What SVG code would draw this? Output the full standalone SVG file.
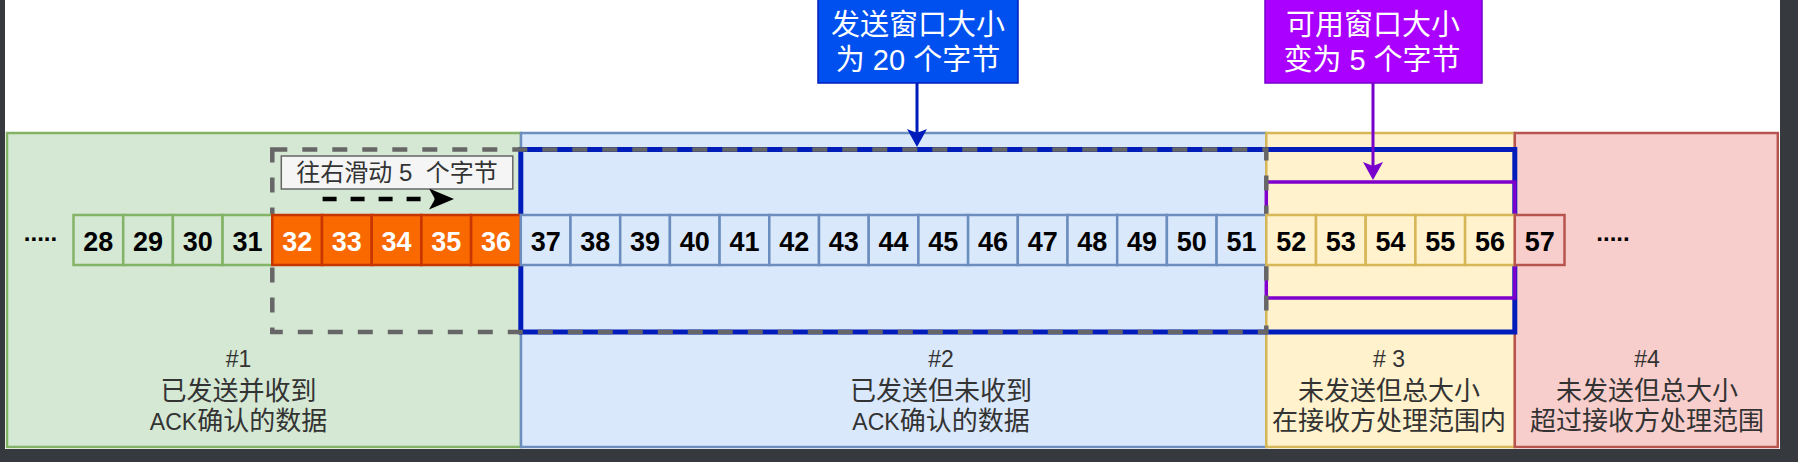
<svg xmlns="http://www.w3.org/2000/svg" width="1798" height="462" viewBox="0 0 1798 462">
<defs>
<style>
text{font-family:"Liberation Sans","Noto Sans CJK SC",sans-serif;}
.lbl{font-size:26px;fill:#333;text-anchor:middle;}
.lat{font-size:23px;}
.num{font-size:27px;font-weight:bold;text-anchor:middle;fill:#000;}
.wnum{fill:#fff;}
.dots{font-size:24px;font-weight:bold;text-anchor:middle;fill:#000;}
.co{font-size:29px;fill:#fff;text-anchor:middle;}
.reg{stroke-width:2.5;}
.cell{stroke-width:2.5;}
.g{fill:#d5e8d4;stroke:#82b366;}
.o{fill:#fa6800;stroke:#c73500;}
.b{fill:#dae8fc;stroke:#6c8ebf;}
.y{fill:#fff2cc;stroke:#d6b656;}
.r{fill:#f8cecc;stroke:#b85450;}
</style>
<marker id="mBlue" viewBox="0 0 18 20" refX="4" refY="10" markerWidth="18" markerHeight="20" markerUnits="userSpaceOnUse" orient="auto"><path d="M0,0 L18,10 L0,20 L4,10 Z" fill="#001dbc"/></marker>
<marker id="mPurple" viewBox="0 0 18 20" refX="4" refY="10" markerWidth="18" markerHeight="20" markerUnits="userSpaceOnUse" orient="auto"><path d="M0,0 L18,10 L0,20 L4,10 Z" fill="#7700cc"/></marker>
<marker id="mBlack" viewBox="0 0 25 21" refX="6" refY="10.5" markerWidth="25" markerHeight="21" markerUnits="userSpaceOnUse" orient="auto"><path d="M0,0 L25,10.5 L0,21 L6,10.5 Z" fill="#000"/></marker>
</defs>

<rect x="0" y="0" width="1798" height="462" fill="#36393d"/>
<rect x="5" y="0" width="1775" height="449" fill="#ffffff"/>

<g id="region1"><rect class="reg g" x="7" y="133" width="514" height="314"/>
<text class="lbl"><tspan class="lat" x="238.5" y="366.5">#1</tspan><tspan x="238.5" y="400">已发送并收到</tspan><tspan x="238.5" y="430"><tspan class="lat">ACK</tspan>确认的数据</tspan></text></g>
<g id="region2"><rect class="reg b" x="521" y="133" width="745.3" height="314"/>
<text class="lbl"><tspan class="lat" x="941" y="366.5">#2</tspan><tspan x="941" y="400">已发送但未收到</tspan><tspan x="941" y="430"><tspan class="lat">ACK</tspan>确认的数据</tspan></text></g>
<g id="region3"><rect class="reg y" x="1266.3" y="133" width="248.5" height="314"/>
<text class="lbl"><tspan class="lat" x="1389" y="366.5"># 3</tspan><tspan x="1389" y="400">未发送但总大小</tspan><tspan x="1389" y="430">在接收方处理范围内</tspan></text></g>
<g id="region4"><rect class="reg r" x="1514.8" y="133" width="263" height="314"/>
<text class="lbl"><tspan class="lat" x="1647" y="366.5">#4</tspan><tspan x="1647" y="400">未发送但总大小</tspan><tspan x="1647" y="430">超过接收方处理范围</tspan></text></g>

<g id="windows">
<rect id="send-window" x="520.8" y="149.5" width="994" height="182.5" fill="none" stroke="#001dbc" stroke-width="5"/>
<rect id="usable-window" x="1266.3" y="182" width="248.5" height="116" fill="none" stroke="#7f00cc" stroke-width="3.5"/>
<rect id="old-window" x="272.3" y="149.5" width="994" height="182.5" fill="none" stroke="#666666" stroke-width="4.5" stroke-dasharray="15 15"/>
</g>

<g id="cells">
<g id="c28"><rect class="cell g" x="73.5" y="215" width="49.7" height="50"/><text class="num" x="98.35" y="251">28</text></g>
<g id="c29"><rect class="cell g" x="123.2" y="215" width="49.7" height="50"/><text class="num" x="148.05" y="251">29</text></g>
<g id="c30"><rect class="cell g" x="172.9" y="215" width="49.7" height="50"/><text class="num" x="197.75" y="251">30</text></g>
<g id="c31"><rect class="cell g" x="222.6" y="215" width="49.7" height="50"/><text class="num" x="247.45" y="251">31</text></g>
<g id="c32"><rect class="cell o" x="272.3" y="215" width="49.7" height="50"/><text class="num wnum" x="297.15" y="251">32</text></g>
<g id="c33"><rect class="cell o" x="322.0" y="215" width="49.7" height="50"/><text class="num wnum" x="346.85" y="251">33</text></g>
<g id="c34"><rect class="cell o" x="371.7" y="215" width="49.7" height="50"/><text class="num wnum" x="396.55" y="251">34</text></g>
<g id="c35"><rect class="cell o" x="421.4" y="215" width="49.7" height="50"/><text class="num wnum" x="446.25" y="251">35</text></g>
<g id="c36"><rect class="cell o" x="471.1" y="215" width="49.7" height="50"/><text class="num wnum" x="495.95" y="251">36</text></g>
<g id="c37"><rect class="cell b" x="520.8" y="215" width="49.7" height="50"/><text class="num" x="545.65" y="251">37</text></g>
<g id="c38"><rect class="cell b" x="570.5" y="215" width="49.7" height="50"/><text class="num" x="595.35" y="251">38</text></g>
<g id="c39"><rect class="cell b" x="620.2" y="215" width="49.7" height="50"/><text class="num" x="645.05" y="251">39</text></g>
<g id="c40"><rect class="cell b" x="669.9" y="215" width="49.7" height="50"/><text class="num" x="694.75" y="251">40</text></g>
<g id="c41"><rect class="cell b" x="719.6" y="215" width="49.7" height="50"/><text class="num" x="744.45" y="251">41</text></g>
<g id="c42"><rect class="cell b" x="769.3" y="215" width="49.7" height="50"/><text class="num" x="794.15" y="251">42</text></g>
<g id="c43"><rect class="cell b" x="819.0" y="215" width="49.7" height="50"/><text class="num" x="843.85" y="251">43</text></g>
<g id="c44"><rect class="cell b" x="868.7" y="215" width="49.7" height="50"/><text class="num" x="893.55" y="251">44</text></g>
<g id="c45"><rect class="cell b" x="918.4" y="215" width="49.7" height="50"/><text class="num" x="943.25" y="251">45</text></g>
<g id="c46"><rect class="cell b" x="968.1" y="215" width="49.7" height="50"/><text class="num" x="992.95" y="251">46</text></g>
<g id="c47"><rect class="cell b" x="1017.8" y="215" width="49.7" height="50"/><text class="num" x="1042.65" y="251">47</text></g>
<g id="c48"><rect class="cell b" x="1067.5" y="215" width="49.7" height="50"/><text class="num" x="1092.35" y="251">48</text></g>
<g id="c49"><rect class="cell b" x="1117.2" y="215" width="49.7" height="50"/><text class="num" x="1142.05" y="251">49</text></g>
<g id="c50"><rect class="cell b" x="1166.9" y="215" width="49.7" height="50"/><text class="num" x="1191.75" y="251">50</text></g>
<g id="c51"><rect class="cell b" x="1216.6" y="215" width="49.7" height="50"/><text class="num" x="1241.45" y="251">51</text></g>
<g id="c52"><rect class="cell y" x="1266.3" y="215" width="49.7" height="50"/><text class="num" x="1291.15" y="251">52</text></g>
<g id="c53"><rect class="cell y" x="1316.0" y="215" width="49.7" height="50"/><text class="num" x="1340.85" y="251">53</text></g>
<g id="c54"><rect class="cell y" x="1365.7" y="215" width="49.7" height="50"/><text class="num" x="1390.55" y="251">54</text></g>
<g id="c55"><rect class="cell y" x="1415.4" y="215" width="49.7" height="50"/><text class="num" x="1440.25" y="251">55</text></g>
<g id="c56"><rect class="cell y" x="1465.1" y="215" width="49.7" height="50"/><text class="num" x="1489.95" y="251">56</text></g>
<g id="c57"><rect class="cell r" x="1514.8" y="215" width="49.7" height="50"/><text class="num" x="1539.65" y="251">57</text></g>
<g id="dots-left"><text class="dots" x="40.5" y="241">.....</text></g>
<g id="dots-right"><text class="dots" x="1613" y="241">.....</text></g>
</g>

<g id="slide-label"><rect x="281.3" y="156" width="231.5" height="33" fill="#f5f5f5" stroke="#666666" stroke-width="1.5"/>
<text x="397" y="181" style="font-size:24px;fill:#333;text-anchor:middle;white-space:pre">往右滑动 5  个字节</text></g>

<g id="callout-send"><rect x="818" y="-2" width="200" height="85" fill="#0050ef" stroke="#001dbc" stroke-width="1.5"/>
<text class="co"><tspan x="918" y="35">发送窗口大小</tspan><tspan x="918" y="70">为 20 个字节</tspan></text></g>
<g id="callout-usable"><rect x="1265" y="-2" width="217" height="85" fill="#aa00ff" stroke="#7700cc" stroke-width="1.5"/>
<text class="co"><tspan x="1373" y="35">可用窗口大小</tspan><tspan x="1372" y="70">变为 5 个字节</tspan></text></g>

<g id="connectors">
<path d="M917,83 L917,133" stroke="#001dbc" stroke-width="3" fill="none" marker-end="url(#mBlue)"/>
<path d="M1373,83 L1373,166" stroke="#7700cc" stroke-width="3" fill="none" marker-end="url(#mPurple)"/>
<path d="M322.6,199 L435,199" stroke="#000" stroke-width="4.5" stroke-dasharray="14 14" fill="none" marker-end="url(#mBlack)"/>
</g>
</svg>
